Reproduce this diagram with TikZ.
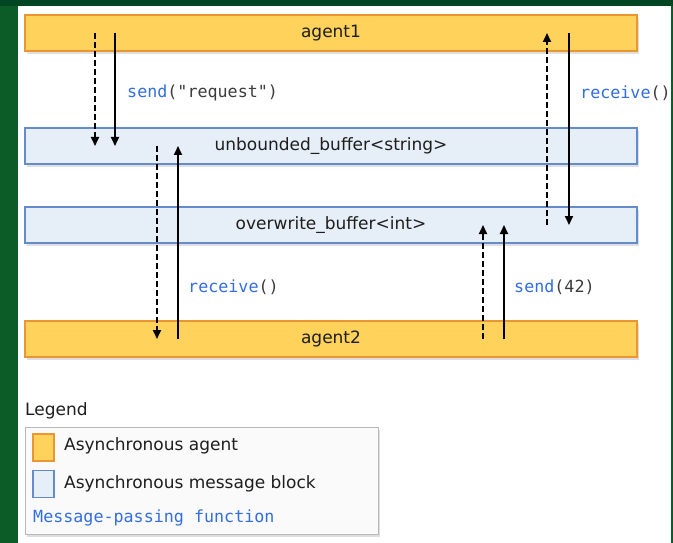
\documentclass[tikz,border=0pt]{standalone}
\usepackage{fontspec}
\setmainfont{DejaVu Sans}
\newfontfamily\monof{DejaVu Sans Mono}
\usetikzlibrary{shadows,arrows.meta}
\definecolor{bggreen}{RGB}{12,92,40}
\definecolor{bgdark}{RGB}{0,70,35}
\definecolor{agentfill}{RGB}{255,210,92}
\definecolor{agentdraw}{RGB}{236,150,50}
\definecolor{blockfill}{RGB}{230,238,248}
\definecolor{blockdraw}{RGB}{100,140,205}
\definecolor{fnblue}{RGB}{50,110,225}
\definecolor{arggray}{RGB}{60,60,60}
\definecolor{txt}{RGB}{30,30,30}
\definecolor{legfill}{RGB}{250,250,250}
\definecolor{legdraw}{RGB}{185,185,185}
\begin{document}
\begin{tikzpicture}[x=1pt,y=-1pt,
  boxbase/.style={rectangle, minimum width=612pt, minimum height=36pt, line width=1.3pt, inner sep=0pt, text=txt,
    font=\fontsize{17}{20}\selectfont, drop shadow={shadow xshift=2pt, shadow yshift=-3pt, opacity=0.25}},
  agent/.style={boxbase, fill=agentfill, draw=agentdraw},
  block/.style={boxbase, fill=blockfill, draw=blockdraw},
  sarr/.style={line width=1.8pt, -{Triangle[length=9pt,width=8pt]}},
  darr/.style={sarr, dash pattern=on 6pt off 3pt},
  fnlabel/.style={anchor=west, inner sep=0pt, font=\monof\fontsize{16.7}{20}\selectfont},
  legtext/.style={anchor=west, inner sep=0pt, text=txt, font=\fontsize{17}{20}\selectfont},
  swatch/.style={rectangle, minimum width=21pt, minimum height=27pt, inner sep=0pt, line width=1.3pt},
]
\useasboundingbox (0,0) rectangle (673,543);
\fill[bggreen] (0,0) rectangle (673,543);
\fill[bgdark] (0,0) rectangle (673,6);
\fill[white] (18,6) rectangle (671,543);

\node[agent] (agent1) at (331,33) {agent1};
\node[block] (ub) at (331,146) {unbounded\_buffer<string>};
\node[block] (ob) at (331,225) {overwrite\_buffer<int>};
\node[agent] (agent2) at (331,339) {agent2};

\draw[darr] (95,0 |- agent1.center) -- (95,0 |- ub.center);
\draw[sarr] (115,0 |- agent1.center) -- (115,0 |- ub.center);
\draw[darr] (157,0 |- ub.center) -- (157,0 |- agent2.center);
\draw[sarr] (178,0 |- agent2.center) -- (178,0 |- ub.center);
\draw[darr] (547,0 |- ob.center) -- (547,0 |- agent1.center);
\draw[sarr] (569,0 |- agent1.center) -- (569,0 |- ob.center);
\draw[darr] (483,0 |- agent2.center) -- (483,0 |- ob.center);
\draw[sarr] (504,0 |- agent2.center) -- (504,0 |- ob.center);

\node[fnlabel] (l1) at (127,93) {\textcolor{fnblue}{send}\textcolor{arggray}{("request")}};
\node[fnlabel] (l2) at (580,93) {\textcolor{fnblue}{receive}\textcolor{arggray}{()}};
\node[fnlabel] (l3) at (188,287) {\textcolor{fnblue}{receive}\textcolor{arggray}{()}};
\node[fnlabel] (l4) at (514,287) {\textcolor{fnblue}{send}\textcolor{arggray}{(42)}};

\node[legtext] (leg) at (25,411) {Legend};
\node[rectangle, draw=legdraw, fill=legfill, line width=1pt, minimum width=353pt, minimum height=107pt, inner sep=0pt,
  drop shadow={shadow xshift=2pt, shadow yshift=-3pt, opacity=0.25}] (legbox) at (201.5,480.5) {};
\node[swatch, fill=agentfill, draw=agentdraw] (sw1) at (43.5,447.5) {};
\node[swatch, fill=blockfill, draw=blockdraw] (sw2) at (43.5,484) {};
\node[legtext] (t1) at (64,446) {Asynchronous agent};
\node[legtext] (t2) at (64,484) {Asynchronous message block};
\node[fnlabel, text=fnblue] (t3) at (33,518) {Message-passing function};
\end{tikzpicture}
\end{document}
